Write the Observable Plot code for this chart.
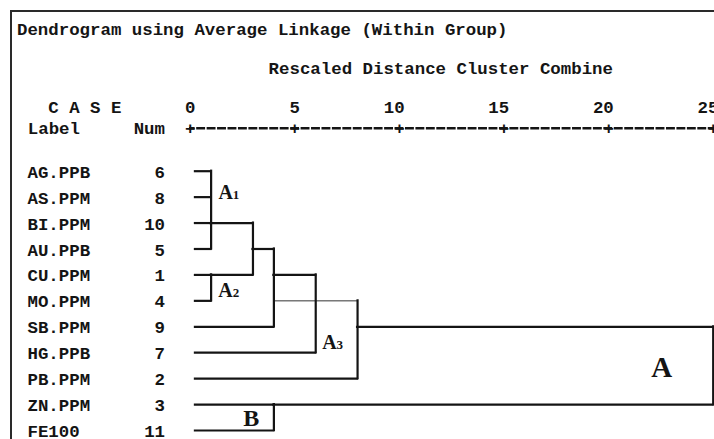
<!DOCTYPE html>
<html><head><meta charset="utf-8">
<script src="https://cdn.jsdelivr.net/npm/d3@7"></script>
<script src="https://cdn.jsdelivr.net/npm/@observablehq/plot@0.6"></script>
<style>
html,body{margin:0;padding:0;background:#fff;overflow:hidden;width:714px;height:439px;}
body{position:relative;}
#border{position:absolute;left:10px;top:10px;width:900px;height:600px;border-left:2px solid #2a2a2a;border-top:2px solid #2a2a2a;}
.hdr{position:absolute;font-family:'Liberation Mono','Courier New',monospace;font-weight:bold;font-size:17.4px;line-height:17.4px;color:#151515;white-space:pre;}
#title{left:17px;top:21.7px}
#subtitle{left:268.6px;top:60.7px}
#chart{position:absolute;left:0;top:80px;}
</style></head>
<body>
<div id="border"></div>
<div id="title" class="hdr"></div>
<div id="subtitle" class="hdr"></div>
<div id="chart"></div>
<script>
// ---- data ----
const titleText = "Dendrogram using Average Linkage (Within Group)";
const subtitleText = "Rescaled Distance Cluster Combine";
const caseHeader = "C A S E";
const labelHeader = "Label";
const numHeader = "Num";
const caseLabels = ["AG.PPB","AS.PPM","BI.PPM","AU.PPB","CU.PPM","MO.PPM","SB.PPM","HG.PPB","PB.PPM","ZN.PPM","FE100"];
const caseNums = [6, 8, 10, 5, 1, 4, 9, 7, 2, 3, 11];
const tickValues = [0, 5, 10, 15, 20, 25];
const leafStart = 0.25;
const mergeIds = ["A1", "A2", "A12", "A12SB", "A12SBHG", "A3PB", "B", "ALL"];
const mergeHeights = [1, 1, 3, 4, 6, 8, 4, 25];
const mergeChildren = [
  ["AG.PPB","AS.PPM","BI.PPM","AU.PPB"],
  ["CU.PPM","MO.PPM"],
  ["A1","A2"],
  ["A12","SB.PPM"],
  ["A12SB","HG.PPB"],
  ["A12SBHG","PB.PPM"],
  ["ZN.PPM","FE100"],
  ["A3PB","B"]
];
const mergeRows = ["BI.PPM","CU.PPM","AU.PPB","CU.PPM","MO.PPM","SB.PPM","ZN.PPM",null];
const faintChildren = ["A12SBHG"];
const faintFrom = [4];
// group annotations
const groupLetters = ["A","A","A","B","A"];
const groupSubs = ["1","2","3","",""];
const groupX = [1.35, 1.34, 6.31, 2.53, 22.04];
const groupRow = [1.09, 4.86, 6.84, 9.83, 7.92];
const groupSize = [20, 20, 20, 24, 29];

// ---- build ----
document.getElementById("title").textContent = titleText;
document.getElementById("subtitle").textContent = subtitleText;

const rowOf = new Map(caseLabels.map((d, i) => [d, i]));
const heightOf = new Map(caseLabels.map(d => [d, leafStart]));
const outRow = new Map(caseLabels.map((d, i) => [d, i]));
mergeIds.forEach((id, i) => {
  heightOf.set(id, mergeHeights[i]);
  if (mergeRows[i]) outRow.set(id, rowOf.get(mergeRows[i]));
});
const hSegs = [], vSegs = [];
mergeIds.forEach((id, i) => {
  const h = mergeHeights[i];
  const rows = mergeChildren[i].map(c => outRow.get(c));
  mergeChildren[i].forEach(c => {
    const fi = faintChildren.indexOf(c);
    hSegs.push({x1: fi >= 0 ? faintFrom[fi] : heightOf.get(c), x2: h, y: outRow.get(c), thin: fi >= 0});
  });
  vSegs.push({x: h, y1: d3.min(rows), y2: d3.max(rows)});
});
const groups = groupLetters.map((l, i) => ({letter: l, sub: groupSubs[i], x: groupX[i], y: groupRow[i], size: groupSize[i]}));

const mono = "'Liberation Mono','Courier New',monospace";
const serif = "'Liberation Serif','Times New Roman',serif";
const ink = "#141414";
const T = {fontFamily: mono, fontWeight: "bold", fontSize: 17.4, fill: ink};

const chart = Plot.plot({
  width: 714,
  height: 359,
  marginLeft: 189.7,
  marginRight: 1.3,
  marginTop: 47.7,
  marginBottom: 9,
  insetTop: 43,
  x: {domain: [0, 25], axis: null},
  y: {domain: [0, 10], reverse: true, axis: null},
  marks: [
    Plot.frame({anchor: "top", stroke: ink, strokeWidth: 2.4, strokeDasharray: "6.5,3.94", strokeDashoffset: 3.25}),
    Plot.text(tickValues, {x: d => d, text: () => "+", frameAnchor: "top", lineAnchor: "middle", ...T}),
    Plot.text(tickValues, {x: d => d, text: d => String(d), frameAnchor: "top", dy: -20.3, dx: 5.2, textAnchor: "end", lineAnchor: "middle", ...T}),
    Plot.text([caseHeader], {text: d => d, frameAnchor: "top-left", dx: -141.9, dy: -20.3, textAnchor: "start", lineAnchor: "middle", ...T}),
    Plot.text([labelHeader], {text: d => d, frameAnchor: "top-left", dx: -162.4, dy: 0, textAnchor: "start", lineAnchor: "middle", ...T}),
    Plot.text([numHeader], {text: d => d, frameAnchor: "top-left", dx: -25.2, dy: 0, textAnchor: "end", lineAnchor: "middle", ...T}),
    Plot.text(caseLabels, {y: (d, i) => i, text: d => d, frameAnchor: "left", dx: -162.7, dy: 1, textAnchor: "start", lineAnchor: "middle", ...T}),
    Plot.text(caseNums, {y: (d, i) => i, text: d => String(d), frameAnchor: "left", dx: -25.2, dy: 1, textAnchor: "end", lineAnchor: "middle", ...T}),
    Plot.ruleY(hSegs.filter(d => !d.thin), {x1: "x1", x2: "x2", y: "y", stroke: ink, strokeWidth: 2.2, strokeLinecap: "square"}),
    Plot.ruleY(hSegs.filter(d => d.thin), {x1: "x1", x2: "x2", y: "y", stroke: "#333", strokeWidth: 1}),
    Plot.ruleX(vSegs, {x: "x", y1: "y1", y2: "y2", stroke: ink, strokeWidth: 2.2, strokeLinecap: "square"}),
    Plot.text(groups, {x: "x", y: "y", text: "letter", fontSize: "size", textAnchor: "start", lineAnchor: "bottom", fontFamily: serif, fontWeight: "bold", fill: ink}),
    Plot.text(groups.filter(d => d.sub), {x: "x", y: "y", text: "sub", dx: 14.4, fontSize: 13, textAnchor: "start", lineAnchor: "bottom", fontFamily: serif, fontWeight: "bold", fill: ink})
  ]
});
document.getElementById("chart").appendChild(chart);
</script>
</body></html>
